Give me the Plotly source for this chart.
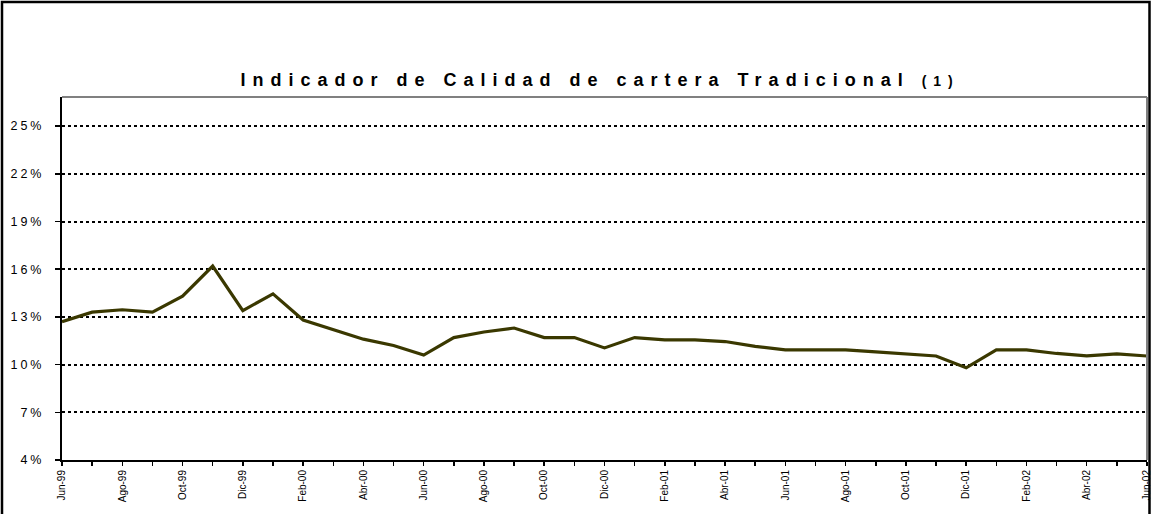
import plotly.graph_objects as go

# Monthly portfolio quality indicator (%), Jun-99 .. Jun-02
months = [
    'Jun-99', 'Jul-99', 'Ago-99', 'Sep-99', 'Oct-99', 'Nov-99', 'Dic-99',
    'Ene-00', 'Feb-00', 'Mar-00', 'Abr-00', 'May-00', 'Jun-00', 'Jul-00',
    'Ago-00', 'Sep-00', 'Oct-00', 'Nov-00', 'Dic-00', 'Ene-01', 'Feb-01',
    'Mar-01', 'Abr-01', 'May-01', 'Jun-01', 'Jul-01', 'Ago-01', 'Sep-01',
    'Oct-01', 'Nov-01', 'Dic-01', 'Ene-02', 'Feb-02', 'Mar-02', 'Abr-02',
    'May-02', 'Jun-02'
]
indicador = [
    12.7, 13.3, 13.45, 13.3, 14.3, 16.2, 13.4, 14.45, 12.8, 12.2,
    11.6, 11.2, 10.6, 11.7, 12.05, 12.3, 11.7, 11.7, 11.05, 11.7,
    11.55, 11.55, 11.45, 11.15, 10.93, 10.93, 10.93, 10.8, 10.66, 10.54,
    9.8, 10.93, 10.93, 10.7, 10.55, 10.68, 10.54
]
y_ticks = [4, 7, 10, 13, 16, 19, 22, 25]
y_labels = [str(v) + '%' for v in y_ticks]

FONT = 'Liberation Sans, Arial, sans-serif'

x = list(range(len(months)))
ticktext = [m if i % 2 == 0 else '' for i, m in enumerate(months)]

fig = go.Figure()
fig.add_trace(go.Scatter(
    x=x, y=indicador, mode='lines',
    line=dict(color='#3a3800', width=3.2),
    hoverinfo='skip', showlegend=False,
))

fig.update_layout(
    width=1151, height=514,
    margin=dict(l=62, r=4, t=97, b=54),
    paper_bgcolor='white', plot_bgcolor='white',
    font=dict(family=FONT, color='black'),
    title=dict(
        text="<b>Indicador de Calidad de cartera Tradicional "
             "<span style='font-size:14px'>(1)</span></b>",
        font=dict(size=18, family=FONT, color='black'),
        xref='paper', x=0.496, xanchor='center',
        yref='container', y=1 - 80 / 514, yanchor='middle',
    ),
)

fig.update_xaxes(
    range=[0, len(months) - 1],
    tickmode='array', tickvals=x, ticktext=ticktext,
    tickangle=-90, tickfont=dict(size=10, family=FONT, color='black'),
    ticklabeloverflow='allow',
    ticks='outside', ticklen=4, tickwidth=1.5, tickcolor='black',
    showline=True, linecolor='black', linewidth=2,
    showgrid=False, zeroline=False, automargin=False,
)
fig.update_yaxes(
    range=[4, 26.83],
    tickmode='array', tickvals=y_ticks, ticktext=y_labels,
    tickfont=dict(size=12.5, family=FONT, color='black'),
    ticks='outside', ticklen=5, tickwidth=1.5, tickcolor='black',
    ticklabelstandoff=8,
    showline=True, linecolor='black', linewidth=2,
    showgrid=True, gridcolor='black', gridwidth=2, griddash='3px,3px',
    zeroline=False, automargin=False,
)

# gray top/right frame of plot area and black outer chart border
fig.add_shape(type='line', xref='paper', yref='paper', x0=0, x1=1, y0=1, y1=1,
              line=dict(color='#808080', width=2))
fig.add_shape(type='line', xref='paper', yref='paper', x0=1, x1=1, y0=0, y1=1,
              line=dict(color='#808080', width=2))
fig.add_shape(type='rect', xref='paper', yref='paper',
              x0=(2 - 62) / 1085, x1=(1149.5 - 62) / 1085,
              y0=(460 - 530) / 363, y1=(460 - 2) / 363,
              line=dict(color='black', width=2.5))

spacing_js = """
document.body.style.margin = '0';
document.body.style.overflow = 'hidden';
var gd = document.getElementById('{plot_id}');
gd.querySelectorAll('.gtitle').forEach(function(t){ t.setAttribute('letter-spacing', '7px'); });
gd.querySelectorAll('.ytick text').forEach(function(t){ t.setAttribute('letter-spacing', '3px'); });
"""

fig.write_html("out.html", post_script=spacing_js,
               config={'displayModeBar': False, 'staticPlot': True})
